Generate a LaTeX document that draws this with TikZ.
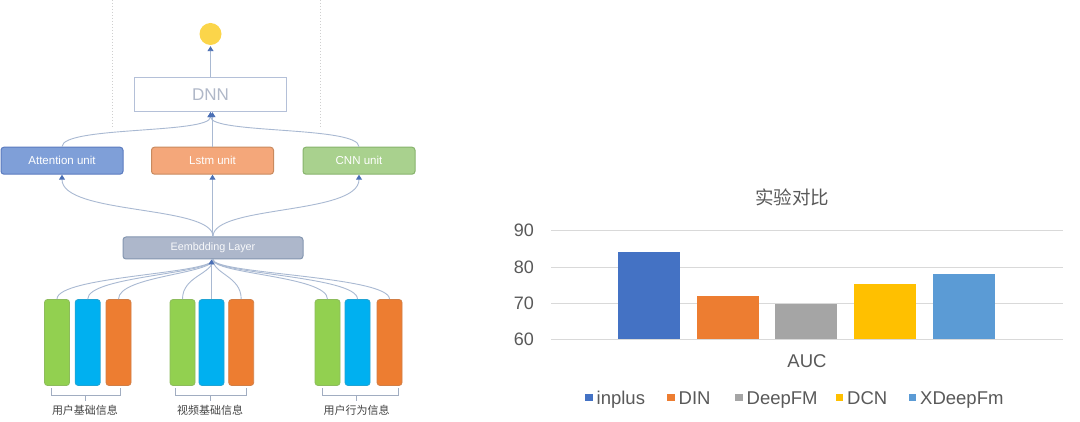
\documentclass[tikz,border=0pt]{standalone}
\usepackage{fontspec}
\setmainfont{Liberation Sans}
\newfontfamily\cjk{Noto Sans CJK SC}
\usetikzlibrary{arrows.meta}
\definecolor{linec}{HTML}{A9B9D2}
\definecolor{tipc}{HTML}{4A6FB5}
\definecolor{dotc}{HTML}{CFCFCF}
\definecolor{dnnb}{HTML}{B4C0D8}
\definecolor{dnnt}{HTML}{B0B8C8}
\definecolor{sunc}{HTML}{FBD54A}
\definecolor{attf}{HTML}{7F9FD8}
\definecolor{attd}{HTML}{5B7BBF}
\definecolor{lstf}{HTML}{F4A77A}
\definecolor{lstd}{HTML}{C98A5E}
\definecolor{cnnf}{HTML}{A9D18E}
\definecolor{cnnd}{HTML}{87B36C}
\definecolor{embf}{HTML}{ADB7CB}
\definecolor{embd}{HTML}{8496B0}
\definecolor{bgreen}{HTML}{92D050}
\definecolor{bblue}{HTML}{00B0F0}
\definecolor{borange}{HTML}{ED7D31}
\definecolor{labc}{HTML}{444444}
\definecolor{gridc}{HTML}{D9D9D9}
\definecolor{txtc}{HTML}{595959}
\definecolor{cinplus}{HTML}{4472C4}
\definecolor{cdin}{HTML}{ED7D31}
\definecolor{cdeep}{HTML}{A5A5A5}
\definecolor{cdcn}{HTML}{FFC000}
\definecolor{cxdeep}{HTML}{5B9BD5}
\tikzset{
  conn/.style={draw=linec, line width=0.9pt, -{Triangle[width=6pt,length=5pt,color=tipc]}},
  plainconn/.style={draw=linec, line width=0.9pt},
  unitbox/.style={rounded corners=3pt, line width=1pt, minimum height=27pt, inner sep=0pt, text=white, font=\fontsize{11.5}{12}\selectfont},
  fbar/.style={rounded corners=3pt, line width=0.8pt, minimum width=25pt, minimum height=86pt, inner sep=0pt},
  grplabel/.style={font=\cjk\fontsize{11}{12}\selectfont, text=labc},
  brace/.style={draw=linec!80!gray, line width=0.8pt},
  gridline/.style={draw=gridc, line width=0.8pt},
  axlab/.style={text=txtc, font=\fontsize{18}{20}\selectfont, anchor=east, inner sep=0pt},
  legtxt/.style={text=txtc, font=\fontsize{18.5}{20}\selectfont, anchor=base west, inner sep=0pt},
}
\begin{document}
\begin{tikzpicture}[x=1pt,y=-1pt]
\useasboundingbox[fill=white] (0,0) rectangle (1080,422);
% dotted frame lines
\draw[dotc, line width=0.8pt, dash pattern=on 1pt off 2pt] (112,0) -- (112,128);
\draw[dotc, line width=0.8pt, dash pattern=on 1pt off 2pt] (320.5,0) -- (320.5,128);
% nodes
\node[circle, fill=sunc, minimum size=22pt, inner sep=0pt] (out) at (210.5,34) {};
\node[draw=dnnb, fill=white, line width=1pt, minimum width=152pt, minimum height=34pt, inner sep=0pt, text=dnnt, font=\fontsize{17}{18}\selectfont] (dnn) at (210.5,94.7) {DNN};
\node[unitbox, fill=attf, draw=attd, minimum width=122pt] (att) at (62,160.7) {Attention unit};
\node[unitbox, fill=lstf, draw=lstd, minimum width=122pt] (lstm) at (212.5,160.7) {Lstm unit};
\node[unitbox, fill=cnnf, draw=cnnd, minimum width=112pt] (cnn) at (359,160.7) {CNN unit};
\node[rounded corners=3pt, fill=embf, draw=embd, line width=1pt, minimum width=180pt, minimum height=22pt, inner sep=0pt, text=white!92!embf, font=\fontsize{10.8}{11}\selectfont] (emb) at (213,248) {Eembdding Layer};
% bars
\foreach \n/\x/\c in {g1a/57/bgreen, g1b/87.7/bblue, g1c/118.5/borange,
                      g2a/182.5/bgreen, g2b/211.5/bblue, g2c/241.2/borange,
                      g3a/327.5/bgreen, g3b/357.5/bblue, g3c/389.5/borange}{
  \node[fbar, fill=\c, draw=\c!75!gray] (\n) at (\x,342.5) {};
}
% connectors top
\draw[conn, shorten >=1pt] (dnn.north) -- (out.south);
\draw[conn] (att.north) .. controls (62,126) and (210.5,134) .. (dnn.south);
\draw[conn] (cnn.north) .. controls (359,126) and (210.5,134) .. (dnn.south);
\draw[conn] (lstm.north) -- (lstm.north |- dnn.south);
% connectors embedding -> units
\draw[conn] (emb.north) .. controls (213,205) and (62,215) .. (att.south);
\draw[conn] (emb.north) .. controls (213,205) and (359,215) .. (cnn.south);
\draw[conn] (emb.north -| lstm.south) -- (lstm.south);
% connectors bars -> embedding
\foreach \n/\x in {g1a/57, g1b/87.7, g1c/118.5, g2a/182.5, g2c/241.2, g3a/327.5, g3b/357.5, g3c/389.5}{
  \draw[plainconn] (\n.north) .. controls (\x,276) and (213,274) .. (emb.south);
}
\draw[conn] (g2b.north) -- (g2b.north |- emb.south);
% group labels and brackets
\node[grplabel] (l1) at (85,410) {用户基础信息};
\node[grplabel] (l2) at (210,410) {视频基础信息};
\node[grplabel] (l3) at (356.5,410) {用户行为信息};
\draw[brace] (51,388) -- (51,395) -- (120,395) -- (120,388);
\draw[brace] (85,395) -- (l1.north);
\draw[brace] (175,388) -- (175,395) -- (246.7,395) -- (246.7,388);
\draw[brace] (210,395) -- (l2.north);
\draw[brace] (322.7,388) -- (322.7,395) -- (398.3,395) -- (398.3,388);
\draw[brace] (356.5,395) -- (l3.north);
% chart
\node[text=txtc, font=\cjk\fontsize{18.5}{20}\selectfont] (title) at (792,197) {实验对比};
\foreach \y/\v in {230.7/90, 267/80, 303.3/70, 339/60}{
  \draw[gridline] (551,\y) -- (1063,\y);
  \node[axlab] at (534,\y) {\v};
}
\fill[cinplus] (618,339) rectangle (680,252.3);
\fill[cdin] (696.5,339) rectangle (758.5,296);
\fill[cdeep] (775,339) rectangle (837,304);
\fill[cdcn] (854,339) rectangle (916,284);
\fill[cxdeep] (933,339) rectangle (995,274.3);
\node[text=txtc, font=\fontsize{18.5}{20}\selectfont] (auc) at (807,361) {AUC};
% legend
\foreach \sx/\col/\lab in {585/cinplus/inplus, 667/cdin/DIN, 735/cdeep/DeepFM, 835.5/cdcn/DCN, 908.5/cxdeep/XDeepFm}{
  \fill[\col] (\sx,393.5) rectangle ++(7.5,7.5);
  \node[legtxt] at (\sx+11.5,404) {\lab};
}
\end{tikzpicture}
\end{document}
